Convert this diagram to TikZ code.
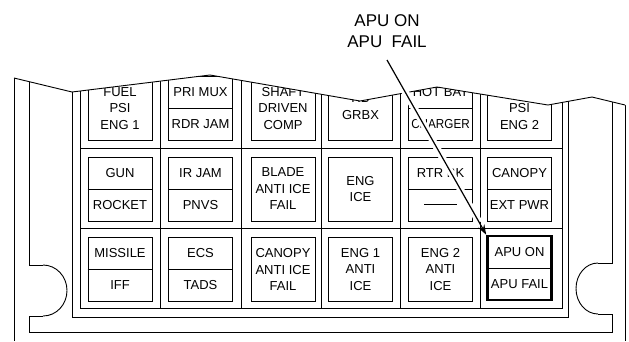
\documentclass[tikz,border=0pt]{standalone}
\usepackage{fontspec}
\setmainfont{Liberation Sans}
\usepackage{graphicx}
\usetikzlibrary{arrows.meta}
\tikzset{
  frame/.style={line width=0.9pt},
  lamp/.style={draw, line width=0.9pt, minimum width=64pt, minimum height=64pt,
    inner sep=0pt, align=center, font=\fontsize{13}{16.5}\selectfont},
  legend/.style={inner sep=0pt, font=\fontsize{13}{16.5}\selectfont}
}

\begin{document}
\begin{tikzpicture}[x=1pt, y=-1pt, >=Stealth]
  \useasboundingbox (0,0) rectangle (629,341);
  % panel frame
  \draw[frame] (14,60) -- (14,341);
  \draw[frame] (625,60) -- (625,341);
  \draw[frame] (29,60) -- (29,265);
  \draw[frame] (29,265) -- (43,265);
  \draw[frame] (43,265) .. controls (56.3,265) and (67,276.4) .. (67,290.5);
  \draw[frame] (67,290.5) .. controls (67,304.6) and (56.3,316) .. (43,316);
  \draw[frame] (43,316) -- (29,316) -- (29,332) -- (612,332) -- (612,314) -- (598,314);
  \draw[frame] (598,314) .. controls (585.8,314) and (576,302.6) .. (576,288.5);
  \draw[frame] (576,288.5) .. controls (576,274.4) and (585.8,263) .. (598,263);
  \draw[frame] (598,263) -- (612,263) -- (612,60);
  \draw[frame] (72,60) -- (72,317) -- (568,317) -- (568,60);
  % grid
  \draw[frame] (80,60) -- (80,308) -- (562,308) -- (562,60);
  \draw[frame] (160.5,60) -- (160.5,308) (241.5,60) -- (241.5,308) (321.5,60) -- (321.5,308)
    (400.5,60) -- (400.5,308) (480,60) -- (480,308);
  \draw[frame] (80,148) -- (562,148) (80,228) -- (562,228);

  % row 1
  \node[lamp] (fuel1) at (120,108.5) {FUEL\\PSI\\ENG 1};
  \node[lamp] (mux) at (200.5,108.5) {};
  \draw[frame] (mux.west) -- (mux.east);
  \node[legend] (muxa) at (200.5,92.5) {PRI MUX};
  \node[legend] (muxb) at (200.5,124.5) {RDR JAM};
  \node[lamp] (shaft) at (283,108.5) {SHAFT\\DRIVEN\\COMP};
  \node[lamp] (grbx) at (360.5,108.5) {};
  \node[legend, align=center] (grbxt) at (360.5,106.5) {RB\\GRBX};
  \node[lamp] (bat) at (440.5,108.5) {};
  \draw[frame] (bat.west) -- (bat.east);
  \node[legend] (bata) at (440.5,92.5) {HOT BAT};
  \node[legend] (batb) at (440.5,124.5) {\scalebox{0.9}[1]{CHARGER}};
  \node[lamp] (fuel2) at (519.5,108.5) {FUEL\\PSI\\ENG 2};

  % row 2
  \node[lamp] (gun) at (120,189) {};
  \draw[frame] (gun.west) -- (gun.east);
  \node[legend] (guna) at (120,173) {GUN};
  \node[legend] (gunb) at (120,205) {ROCKET};
  \node[lamp] (irjam) at (200.5,189) {};
  \draw[frame] (irjam.west) -- (irjam.east);
  \node[legend] (irjama) at (200.5,173) {IR JAM};
  \node[legend] (irjamb) at (200.5,205) {PNVS};
  \node[lamp] (blade) at (283,189) {BLADE\\ANTI ICE\\FAIL};
  \node[lamp] (engice) at (360.5,189) {ENG\\ICE};
  \node[lamp] (rtr) at (440.5,189) {};
  \draw[frame] (rtr.west) -- (rtr.east);
  \node[legend] (rtra) at (440.5,173) {RTR BK};
  \node[legend] (rtrb) at (440.5,204) {\rule{33pt}{0.8pt}};
  \node[lamp] (canopy) at (519.5,189) {};
  \draw[frame] (canopy.west) -- (canopy.east);
  \node[legend] (canopya) at (519.5,173) {CANOPY};
  \node[legend] (canopyb) at (519.5,205) {EXT PWR};

  % row 3
  \node[lamp] (missile) at (120,269.5) {};
  \draw[frame] (missile.west) -- (missile.east);
  \node[legend] (missilea) at (120,253.5) {MISSILE};
  \node[legend] (missileb) at (120,285.5) {IFF};
  \node[lamp] (ecs) at (200.5,269.5) {};
  \draw[frame] (ecs.west) -- (ecs.east);
  \node[legend] (ecsa) at (200.5,253.5) {ECS};
  \node[legend] (ecsb) at (200.5,285.5) {TADS};
  \node[lamp] (cnpice) at (283,269.5) {CANOPY\\ANTI ICE\\FAIL};
  \node[lamp] (eng1ice) at (360.5,269.5) {ENG 1\\ANTI\\ICE};
  \node[lamp] (eng2ice) at (440.5,269.5) {ENG 2\\ANTI\\ICE};
  \node[lamp, line width=2.6pt] (apu) at (519.5,268) {};
  \draw[frame] (apu.west) -- (apu.east);
  \node[legend] (apua) at (519.5,252) {APU ON};
  \node[legend] (apub) at (519.5,284) {APU FAIL};

  % break line
  \fill[white] (0,0) -- (0,78) -- (14,78) -- (72,92) -- (210,75) -- (360,101) -- (437,87)
    -- (548,105) -- (592,97) -- (625,105) -- (629,105) -- (629,0) -- cycle;
  \draw[frame] (14,78) -- (72,92) -- (210,75) -- (360,101) -- (437,87) -- (548,105) -- (592,97) -- (625,105);

  % callout
  \node[font=\fontsize{17}{21}\selectfont, align=center, inner xsep=0pt, inner ysep=12pt, anchor=south]
    (apulbl) at (387,60) {APU ON\\APU\ \ FAIL};
  \draw[white, line width=7pt, shorten >=14pt] (apulbl.south) -- (apu.north west);
  \draw[line width=1.2pt, -{Stealth[length=10pt, width=7pt]}] (apulbl.south) -- (apu.north west);
\end{tikzpicture}
\end{document}
